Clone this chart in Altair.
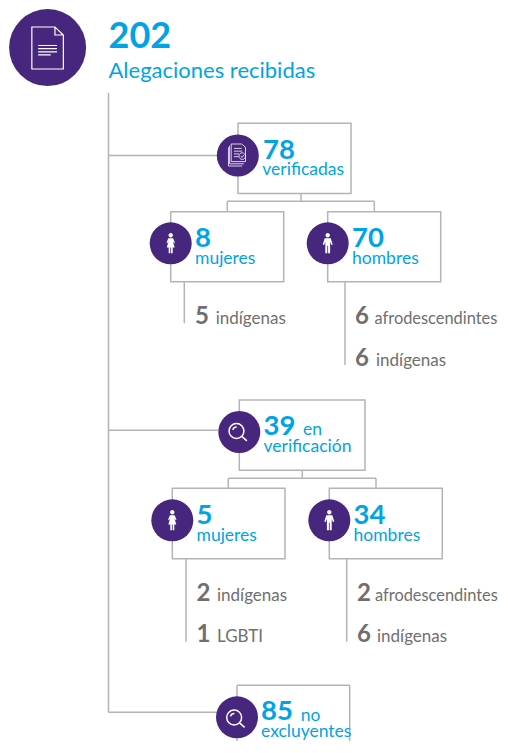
import altair as alt
import pandas as pd

# ---- connector lines (reference pixels); the last three are the open box at the foot
line_x1 = [108.5, 108.5, 108.5, 108.5, 301, 227.3, 227.3, 374.3, 184.3, 345, 302.3, 228.3, 228.3, 376, 186, 346.7, 237, 349.7, 237]
line_x2 = [108.5, 217, 218, 217, 301, 374.3, 227.3, 374.3, 184.3, 345, 302.3, 376, 228.3, 376, 186, 346.7, 349.7, 349.7, 237]
line_y1 = [93, 155.5, 430.3, 712.3, 193.5, 201.3, 201.3, 201.3, 281.7, 281.7, 470.3, 478.3, 478.3, 478.3, 558.7, 558.7, 685.3, 685.3, 685.3]
line_y2 = [712.3, 155.5, 430.3, 712.3, 201.3, 201.3, 211.7, 211.7, 323.3, 365, 478.3, 478.3, 488.3, 488.3, 641.7, 641.7, 685.3, 753, 753]

# ---- boxes
box_x1 = [238, 170.7, 327.7, 239.3, 172.3, 329.3]
box_x2 = [351, 283.7, 440.7, 365, 285, 442.3]
box_y1 = [123.3, 211.7, 211.7, 400, 488.3, 488.3]
box_y2 = [193.5, 281.7, 281.7, 470.3, 558.7, 558.7]

# ---- badges
circle_x = [237.8, 170.7, 327.7, 239.3, 172.3, 329.3, 237]
circle_y = [155.5, 243.3, 243.3, 432, 520.3, 520.3, 717.3]

# ---- texts
blue_num = ["78", "8", "70", "39", "5", "34", "85"]
blue_num_x = [263, 195, 352, 263.5, 196.5, 353.5, 261]
blue_num_y = [159.3, 247.3, 247.3, 435, 524.3, 524.3, 720]

blue_lab = ["verificadas", "mujeres", "hombres", "en", "verificación", "mujeres", "hombres", "no", "excluyentes"]
blue_lab_x = [262.3, 195, 352, 303, 263.5, 196.5, 353.5, 300.7, 261]
blue_lab_y = [175, 264, 264, 435.3, 452, 540.7, 540.7, 720.5, 736.7]

gray_num = ["5", "6", "6", "2", "1", "2", "6"]
gray_num_x = [195, 355, 355, 196.5, 196.5, 357, 357]
gray_num_y = [324, 324, 365.7, 601, 641.7, 601, 641.7]

gray_lab = ["indígenas", "indígenas", "indígenas", "LGBTI", "indígenas"]
gray_lab_x = [215.7, 376, 217, 217, 377]
gray_lab_y = [324, 365.7, 601, 641.7, 641.7]

long_lab = ["afrodescendintes", "afrodescendintes"]
long_lab_x = [374.5, 375]
long_lab_y = [324, 601]

PURPLE = "#46277d"
BLUE = "#00a4e4"
GRAY = "#6f6f6f"
LINE = "#b4b4b4"
FONT = "Lato"

x_s = alt.Scale(domain=[8, 500], range=[0, 492], nice=False, zero=False)
y_s = alt.Scale(domain=[8, 741], range=[0, 733], nice=False, zero=False, clamp=True)
X = lambda f: alt.X(f, type="quantitative", scale=x_s, axis=None)
Y = lambda f: alt.Y(f, type="quantitative", scale=y_s, axis=None)

lines = pd.DataFrame({"x": line_x1, "x2": line_x2, "y": line_y1, "y2": line_y2})
boxes = pd.DataFrame({"x": box_x1, "x2": box_x2, "y": box_y1, "y2": box_y2})
badges = pd.DataFrame({"x": circle_x, "y": circle_y})

line_layer = alt.Chart(lines).mark_rule(color=LINE, strokeWidth=1.5).encode(x=X("x"), x2="x2", y=Y("y"), y2="y2")
box_layer = alt.Chart(boxes).mark_rect(fill="white", stroke=LINE, strokeWidth=1.5).encode(x=X("x"), x2="x2", y=Y("y"), y2="y2")
badge_layer = alt.Chart(badges).mark_point(shape="circle", filled=True, fill=PURPLE, opacity=1, size=42 * 42, strokeWidth=0).encode(x=X("x"), y=Y("y"))
hero_layer = alt.Chart(pd.DataFrame({"x": [47.6], "y": [47.6]})).mark_point(shape="circle", filled=True, fill=PURPLE, opacity=1, size=77 * 77, strokeWidth=0).encode(x=X("x"), y=Y("y"))


def text(rows_t, rows_x, rows_y, size, color, weight="normal"):
    df = pd.DataFrame({"t": rows_t, "x": rows_x, "y": rows_y})
    return alt.Chart(df).mark_text(align="left", baseline="alphabetic", font=FONT, fontSize=size, color=color, fontWeight=weight).encode(x=X("x"), y=Y("y"), text="t:N")


def icon(xs, ys, path, size, filled=False, sw=1.2):
    df = pd.DataFrame({"x": xs, "y": ys})
    kw = dict(fill="white", strokeWidth=0) if filled else dict(stroke="white", strokeWidth=sw, fillOpacity=0)
    return alt.Chart(df).mark_point(shape=path, filled=filled, opacity=1, size=size * size, **kw).encode(x=X("x"), y=Y("y"))


DOC = ("M-.75,-1 L.35,-1 L.75,-.62 L.75,1 L-.75,1 Z M.35,-1 L.35,-.62 L.75,-.62 "
       "M-.45,-.12 L.45,-.12 M-.45,.03 L.45,.03 M-.45,.18 L.45,.18 M-.45,.33 L.15,.33")
CHECK = ("M-.6,-1 L.35,-1 L.7,-.7 L.7,.6 L-.6,.6 Z M-.75,-.85 L-.75,.8 L.55,.8 M-.85,-.7 L-.85,1 L.4,1 "
         "M-.35,-.6 L.35,-.6 M-.35,-.35 L.4,-.35 M-.35,-.1 L.1,-.1 M-.35,.15 L.05,.15 "
         "M.7,.1 A.3,.3 0 1 1 .1,.1 A.3,.3 0 1 1 .7,.1 M.28,.1 L.38,.22 L.55,0")
LENS = ("M.44,-.1 A.71,.71 0 1 1 -.98,-.1 A.71,.71 0 1 1 .44,-.1 Z M.25,.42 L.72,.84 "
        "M-.62,-.2 A.38,.38 0 0 1 -.25,-.48")
WOMAN = ("M.22,-.8 A.22,.22 0 1 1 -.22,-.8 A.22,.22 0 1 1 .22,-.8 Z "
         "M-.24,-.5 L.24,-.5 L.42,-.05 L.34,0 L.2,-.22 L.4,.42 L.2,.42 L.2,1 L.04,1 L.04,.42 L-.04,.42 L-.04,1 L-.2,1 L-.2,.42 L-.4,.42 L-.2,-.22 L-.34,0 L-.42,-.05 Z")
MAN = ("M.22,-.8 A.22,.22 0 1 1 -.22,-.8 A.22,.22 0 1 1 .22,-.8 Z "
       "M-.3,-.5 L.3,-.5 L.5,.12 L.36,.16 L.24,-.15 L.24,1 L.04,1 L.04,.25 L-.04,.25 L-.04,1 L-.24,1 L-.24,-.15 L-.36,.16 L-.5,.12 Z")

chart = alt.layer(
    line_layer, box_layer, hero_layer, badge_layer,
    icon([47.6], [48], DOC, 42, sw=1.2),
    icon([237.8], [155], CHECK, 22, sw=0.8),
    icon([239.3, 237], [432, 718.5], LENS, 21, sw=1.5),
    icon([170.7, 172.3], [243.3, 520.3], WOMAN, 20, filled=True),
    icon([327.7, 329.3], [243.3, 520.3], MAN, 20, filled=True),
    text(["202"], [108.5], [47.7], 36, BLUE, "bold"),
    text(["Alegaciones recibidas"], [108.5], [78], 22, BLUE),
    text(blue_num, blue_num_x, blue_num_y, 27.5, BLUE, "bold"),
    text(blue_lab, blue_lab_x, blue_lab_y, 17.5, BLUE),
    text(gray_num, gray_num_x, gray_num_y, 24, GRAY, "bold"),
    text(gray_lab, gray_lab_x, gray_lab_y, 17, GRAY),
    text(long_lab, long_lab_x, long_lab_y, 16.4, GRAY),
).properties(width=492, height=733, padding=0, autosize=alt.AutoSizeParams(type="none"), background="white"
).configure_view(stroke=None)

chart.save("out.html", embed_options={"renderer": "svg", "actions": False})
